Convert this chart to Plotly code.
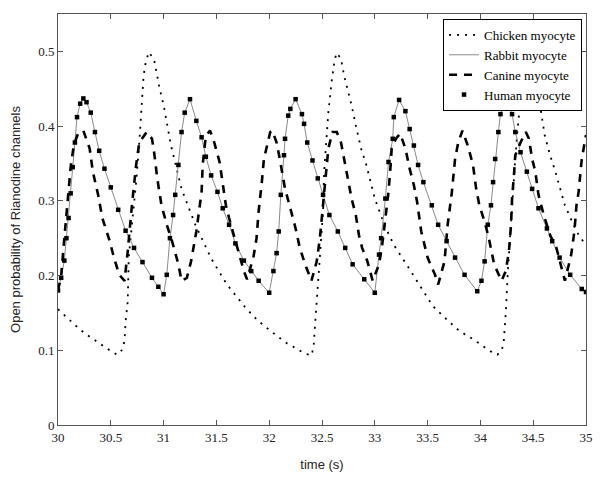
import plotly.graph_objects as go

# ---------------- data ----------------
chicken_t = [30.00, 30.07, 30.13, 30.19, 30.26, 30.34, 30.41, 30.49, 30.56, 30.61, 30.63, 30.64,
             30.66, 30.67, 30.70, 30.74, 30.77, 30.79, 30.81, 30.83, 30.86, 30.91, 30.94, 30.96,
             31.00, 31.07, 31.17, 31.30, 31.45, 31.60, 31.77, 31.89, 32.03, 32.17, 32.25, 32.33,
             32.40, 32.42, 32.43, 32.45, 32.49, 32.51, 32.52, 32.54, 32.56, 32.59, 32.62, 32.64,
             32.68, 32.71, 32.78, 32.82, 32.87, 32.92, 33.00, 33.09, 33.18, 33.30, 33.40, 33.55,
             33.69, 33.80, 33.94, 34.09, 34.16, 34.20, 34.22, 34.24, 34.26, 34.29, 34.31, 34.33,
             34.35, 34.38, 34.42, 34.46, 34.50, 34.55, 34.61, 34.66, 34.71, 34.80, 34.85, 34.91, 35.00]
chicken_p = [0.155, 0.146, 0.137, 0.130, 0.122, 0.114, 0.108, 0.100, 0.094, 0.101, 0.113, 0.138,
             0.165, 0.224, 0.268, 0.325, 0.378, 0.423, 0.467, 0.485, 0.499, 0.489, 0.467, 0.452,
             0.428, 0.374, 0.316, 0.268, 0.223, 0.188, 0.158, 0.140, 0.124, 0.109, 0.103, 0.096,
             0.093, 0.104, 0.125, 0.165, 0.237, 0.286, 0.339, 0.378, 0.418, 0.458, 0.489, 0.498,
             0.490, 0.467, 0.428, 0.401, 0.370, 0.348, 0.303, 0.268, 0.241, 0.215, 0.193, 0.159,
             0.140, 0.126, 0.114, 0.099, 0.094, 0.099, 0.110, 0.149, 0.206, 0.277, 0.316, 0.356,
             0.392, 0.436, 0.480, 0.500, 0.485, 0.440, 0.387, 0.361, 0.339, 0.294, 0.277, 0.259, 0.240]

rabbit_t = [30.00, 30.03, 30.06, 30.08, 30.10, 30.12, 30.14, 30.16, 30.18, 30.21, 30.24, 30.27,
            30.31, 30.35, 30.39, 30.44, 30.50, 30.57, 30.64, 30.72, 30.80, 30.89, 30.95, 31.00,
            31.03, 31.06, 31.09, 31.11, 31.14, 31.17, 31.20, 31.25, 31.31, 31.36, 31.40, 31.45,
            31.51, 31.56, 31.62, 31.68, 31.76, 31.83, 31.90, 32.00,
            32.04, 32.07, 32.09, 32.11, 32.14, 32.15, 32.18, 32.20, 32.25, 32.31, 32.33, 32.36,
            32.41, 32.46, 32.51, 32.57, 32.65, 32.72, 32.79, 32.90, 33.00,
            33.04, 33.06, 33.10, 33.13, 33.17, 33.18, 33.23, 33.29, 33.33, 33.37, 33.41, 33.46,
            33.54, 33.60, 33.68, 33.76, 33.85, 33.97,
            34.01, 34.04, 34.07, 34.10, 34.12, 34.14, 34.17, 34.19, 34.25, 34.30, 34.33, 34.38,
            34.44, 34.49, 34.55, 34.63, 34.68, 34.75, 34.85, 34.96, 35.00]
rabbit_p = [0.180, 0.197, 0.220, 0.250, 0.277, 0.310, 0.345, 0.378, 0.412, 0.430, 0.437, 0.432,
            0.418, 0.392, 0.367, 0.343, 0.318, 0.288, 0.260, 0.237, 0.218, 0.197, 0.185, 0.175,
            0.201, 0.250, 0.281, 0.308, 0.348, 0.392, 0.418, 0.436, 0.407, 0.385, 0.359, 0.334,
            0.312, 0.290, 0.268, 0.243, 0.220, 0.206, 0.193, 0.177,
            0.206, 0.230, 0.259, 0.308, 0.361, 0.383, 0.414, 0.423, 0.436, 0.416, 0.403, 0.378,
            0.354, 0.330, 0.308, 0.281, 0.259, 0.237, 0.215, 0.195, 0.177,
            0.228, 0.250, 0.303, 0.352, 0.383, 0.412, 0.435, 0.420, 0.396, 0.374, 0.348, 0.325,
            0.294, 0.268, 0.246, 0.224, 0.201, 0.179,
            0.193, 0.219, 0.268, 0.294, 0.325, 0.356, 0.392, 0.416, 0.436, 0.416, 0.392, 0.365,
            0.339, 0.316, 0.290, 0.263, 0.246, 0.224, 0.201, 0.182, 0.178]

canine_t = [30.00, 30.03, 30.06, 30.09, 30.12, 30.15, 30.19, 30.24, 30.30, 30.33, 30.38, 30.42,
            30.49, 30.53, 30.58, 30.63, 30.66, 30.70, 30.74, 30.77, 30.81, 30.84, 30.89, 30.91,
            30.94, 30.98, 31.03, 31.08, 31.14, 31.17, 31.22, 31.26, 31.31, 31.36, 31.37, 31.40,
            31.44, 31.48, 31.53, 31.56, 31.59, 31.62, 31.67, 31.72, 31.76, 31.79, 31.85, 31.88,
            31.90, 31.93, 31.95, 31.98, 32.01, 32.03, 32.07, 32.10, 32.15, 32.20, 32.25, 32.29,
            32.34, 32.40, 32.45, 32.48, 32.50, 32.51, 32.54, 32.56, 32.60, 32.64, 32.68, 32.71,
            32.74, 32.78, 32.82, 32.85, 32.88, 32.93, 32.98, 33.04, 33.07, 33.10, 33.13, 33.15,
            33.16, 33.20, 33.24, 33.29, 33.33, 33.37, 33.40, 33.44, 33.50, 33.57, 33.60, 33.66,
            33.69, 33.73, 33.76, 33.79, 33.83, 33.88, 33.93, 33.96, 33.99, 34.04, 34.08, 34.13,
            34.20, 34.24, 34.27, 34.29, 34.30, 34.32, 34.33, 34.38, 34.43, 34.46, 34.49, 34.52,
            34.55, 34.60, 34.66, 34.72, 34.80, 34.86, 34.89, 34.91, 34.93, 34.96, 34.99, 35.00]
canine_p = [0.180, 0.200, 0.250, 0.300, 0.345, 0.375, 0.390, 0.394, 0.370, 0.339, 0.308, 0.277,
            0.246, 0.224, 0.201, 0.193, 0.232, 0.294, 0.348, 0.378, 0.387, 0.392, 0.383, 0.365,
            0.330, 0.294, 0.268, 0.246, 0.215, 0.193, 0.197, 0.219, 0.259, 0.312, 0.348, 0.387,
            0.394, 0.378, 0.352, 0.321, 0.294, 0.277, 0.252, 0.224, 0.206, 0.195, 0.224, 0.250,
            0.286, 0.325, 0.356, 0.374, 0.392, 0.394, 0.378, 0.356, 0.316, 0.290, 0.263, 0.237,
            0.215, 0.193, 0.219, 0.250, 0.281, 0.303, 0.339, 0.370, 0.392, 0.392, 0.378, 0.356,
            0.330, 0.303, 0.281, 0.254, 0.237, 0.219, 0.193, 0.215, 0.241, 0.277, 0.312, 0.348,
            0.370, 0.383, 0.390, 0.370, 0.343, 0.321, 0.299, 0.259, 0.224, 0.201, 0.188, 0.219,
            0.268, 0.312, 0.356, 0.378, 0.394, 0.374, 0.348, 0.316, 0.294, 0.272, 0.250, 0.215,
            0.193, 0.206, 0.232, 0.268, 0.303, 0.339, 0.361, 0.378, 0.392, 0.383, 0.356, 0.339,
            0.308, 0.281, 0.254, 0.237, 0.193, 0.228, 0.259, 0.294, 0.312, 0.356, 0.383, 0.388]

# Human myocyte solver points coincide with the rabbit curve in the picture
human_t = rabbit_t
human_p = rabbit_p

x_ticks = [30, 30.5, 31, 31.5, 32, 32.5, 33, 33.5, 34, 34.5, 35]
x_tick_labels = ["30", "30.5", "31", "31.5", "32", "32.5", "33", "33.5", "34", "34.5", "35"]
y_ticks = [0, 0.1, 0.2, 0.3, 0.4, 0.5]
y_tick_labels = ["0", "0.1", "0.2", "0.3", "0.4", "0.5"]

# ---------------- figure ----------------
fig = go.Figure()
fig.add_trace(go.Scatter(x=chicken_t, y=chicken_p, mode="lines", name="Chicken myocyte",
                         line=dict(color="black", width=1.8, dash="2px,6px")))
fig.add_trace(go.Scatter(x=rabbit_t, y=rabbit_p, mode="lines", name="Rabbit myocyte",
                         line=dict(color="#8a8a8a", width=1)))
fig.add_trace(go.Scatter(x=canine_t, y=canine_p, mode="lines", name="Canine myocyte",
                         line=dict(color="black", width=2.6, dash="8px,7px")))
fig.add_trace(go.Scatter(x=human_t, y=human_p, mode="markers", name="Human myocyte",
                         marker=dict(symbol="square", size=4.5, color="black")))

axis_common = dict(showline=True, linecolor="#555555", linewidth=1, mirror="ticks",
                   ticks="inside", ticklen=5, tickcolor="#555555", showgrid=False,
                   zeroline=False,
                   tickfont=dict(family="Liberation Serif", size=13, color="#222222"))

fig.update_xaxes(range=[30, 35], tickvals=x_ticks, ticktext=x_tick_labels,
                 title=dict(text="time (s)", standoff=16,
                            font=dict(family="Liberation Sans", size=13, color="#222222")),
                 **axis_common)
fig.update_yaxes(range=[0, 0.55], tickvals=y_ticks, ticktext=y_tick_labels,
                 title=dict(text="Open probability of Rianodine channels", standoff=14,
                            font=dict(family="Liberation Sans", size=13, color="#222222")),
                 **axis_common)

fig.update_layout(
    width=605, height=487,
    margin=dict(l=58, r=12, t=14, b=62),
    plot_bgcolor="white", paper_bgcolor="white",
    showlegend=True,
    legend=dict(x=0.9925, y=0.988, xanchor="right", yanchor="top",
                bgcolor="white", bordercolor="black", borderwidth=1,
                font=dict(family="Liberation Serif", size=13, color="black"),
                tracegroupgap=0, itemwidth=30),
)

fig.write_html("out.html", config={"displayModeBar": False},
               post_script="document.body.style.margin='0';")
